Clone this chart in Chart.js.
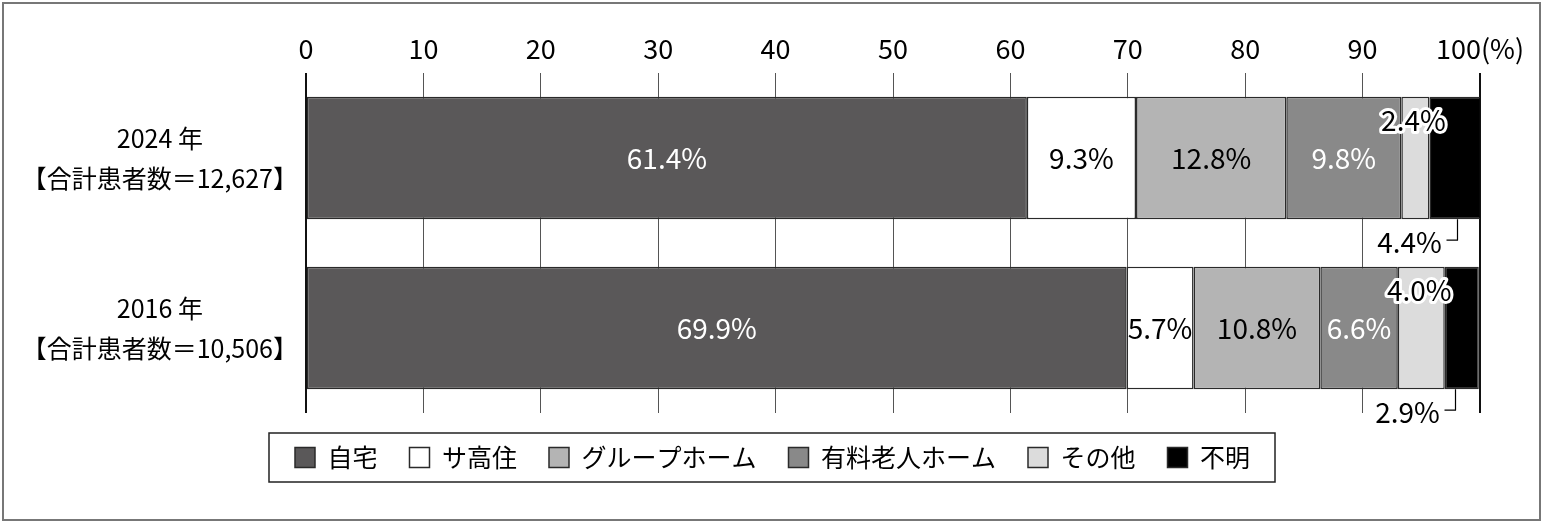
<!DOCTYPE html>
<html><head><meta charset="utf-8">
<script src="https://cdn.jsdelivr.net/npm/chart.js@4"></script>
<style>html,body{margin:0;padding:0;background:#fff}</style>
</head><body>
<canvas id="c" width="1545" height="524"></canvas>
<script>
// ---- data ----
const years = ['2024 年', '2016 年'];
const totals = ['【合計患者数＝12,627】', '【合計患者数＝10,506】'];
const seriesNames = ['自宅', 'サ高住', 'グループホーム', '有料老人ホーム', 'その他', '不明'];
const values2024 = [61.4, 9.3, 12.8, 9.8, 2.4, 4.4];
const values2016 = [69.9, 5.7, 10.8, 6.6, 4.0, 2.9];
const xTickMin = 0, xTickMax = 100, xTickStep = 10;
const unitLabel = '(%)';

// ---- style ----
const FONT = '"Noto Sans CJK JP", "Noto Sans", sans-serif';
const fills = ['#5a5859', '#ffffff', '#b4b4b4', '#898989', '#dcdcdc', '#000000'];
const labelColors = ['#ffffff', '#000000', '#000000', '#ffffff', '#000000', '#000000'];

const datasets = seriesNames.map((name, i) => ({
  label: name,
  data: [values2024[i], values2016[i]],
  backgroundColor: fills[i],
  borderColor: '#2a2a2a',
  borderWidth: 1.5,
  borderSkipped: false,
  categoryPercentage: 0.72,
  barPercentage: 1.0
}));

const segLabels = {
  id: 'segLabels',
  afterDatasetsDraw(chart) {
    const ctx = chart.ctx;
    ctx.save();
    ctx.font = '28px ' + FONT;
    ctx.textAlign = 'center';
    ctx.textBaseline = 'middle';
    chart.data.datasets.forEach((ds, di) => {
      const meta = chart.getDatasetMeta(di);
      meta.data.forEach((bar, i) => {
        const txt = ds.data[i].toFixed(1) + '%';
        const cx = (bar.x + bar.base) / 2;
        const top = bar.y - bar.height / 2;
        const bottom = bar.y + bar.height / 2;
        if (di === 4) {
          ctx.lineJoin = 'round';
          ctx.lineWidth = 6;
          ctx.strokeStyle = '#ffffff';
          ctx.strokeText(txt, cx - 2, top + 24);
          ctx.fillStyle = '#000';
          ctx.fillText(txt, cx - 2, top + 24);
        } else if (di === 5) {
          const lx = Math.round(bar.x - 24) + 0.5;
          ctx.strokeStyle = '#000';
          ctx.lineWidth = 1.2;
          ctx.beginPath();
          ctx.moveTo(lx, bottom);
          ctx.lineTo(lx, bottom + 21);
          ctx.lineTo(lx - 11, bottom + 21);
          ctx.stroke();
          ctx.fillStyle = '#000';
          ctx.fillText(txt, lx - 48, bottom + 23);
        } else {
          ctx.fillStyle = labelColors[di];
          ctx.fillText(txt, cx, bar.y);
        }
      });
    });
    ctx.restore();
  }
};

const frames = {
  id: 'frames',
  beforeDraw(chart) {
    const ctx = chart.ctx;
    ctx.save();
    ctx.fillStyle = '#fff';
    ctx.fillRect(0, 0, chart.width, chart.height);
    ctx.restore();
  },
  afterDraw(chart) {
    const ctx = chart.ctx;
    ctx.save();
    const hb = chart.legend.legendHitBoxes;
    if (hb && hb.length) {
      const l = Math.min(...hb.map(h => h.left)) - 26;
      const r = Math.max(...hb.map(h => h.left + h.width)) + 25;
      const cy = hb[0].top + hb[0].height / 2;
      ctx.strokeStyle = '#222';
      ctx.lineWidth = 1.5;
      ctx.strokeRect(l, cy - 24.5, r - l, 49);
    }
    ctx.strokeStyle = '#777';
    ctx.lineWidth = 2;
    ctx.strokeRect(3, 3, 1537, 517);
    ctx.restore();
  }
};

new Chart(document.getElementById('c'), {
  type: 'bar',
  data: {
    labels: years.map((y, i) => [y, totals[i]]),
    datasets: datasets
  },
  options: {
    indexAxis: 'y',
    responsive: false,
    animation: false,
    devicePixelRatio: 1,
    layout: { padding: { left: 0, right: 0, top: 0, bottom: 44 } },
    plugins: {
      legend: {
        position: 'bottom',
        labels: {
          font: { size: 25, family: FONT },
          color: '#000',
          boxWidth: 20,
          boxHeight: 20,
          padding: 32
        }
      },
      tooltip: { enabled: false }
    },
    scales: {
      x: {
        position: 'top',
        stacked: true,
        min: xTickMin,
        max: xTickMax,
        ticks: {
          stepSize: xTickStep,
          font: { size: 27, family: FONT },
          color: '#000',
          padding: 8,
          maxRotation: 0,
          autoSkip: false,
          callback: (v) => v === xTickMax ? v + unitLabel : v
        },
        grid: {
          drawTicks: false,
          color: (c) => (c.tick && (c.tick.value === xTickMin || c.tick.value === xTickMax)) ? '#111' : '#555',
          lineWidth: (c) => (c.tick && (c.tick.value === xTickMin || c.tick.value === xTickMax)) ? 2 : 1
        },
        border: { display: false },
        afterFit(s) { s.height = 73; }
      },
      y: {
        stacked: true,
        grid: { display: false },
        border: { display: false },
        ticks: {
          font: { size: 25, family: FONT, lineHeight: 1.6 },
          color: '#000',
          crossAlign: 'center',
          padding: 0
        },
        afterFit(s) { s.width = 306; }
      },
      yRight: {
        type: 'category',
        position: 'right',
        display: true,
        grid: { display: false, drawTicks: false },
        border: { display: false },
        ticks: { display: false },
        afterFit(s) { s.width = 65; }
      }
    }
  },
  plugins: [segLabels, frames]
});
</script>
</body></html>
